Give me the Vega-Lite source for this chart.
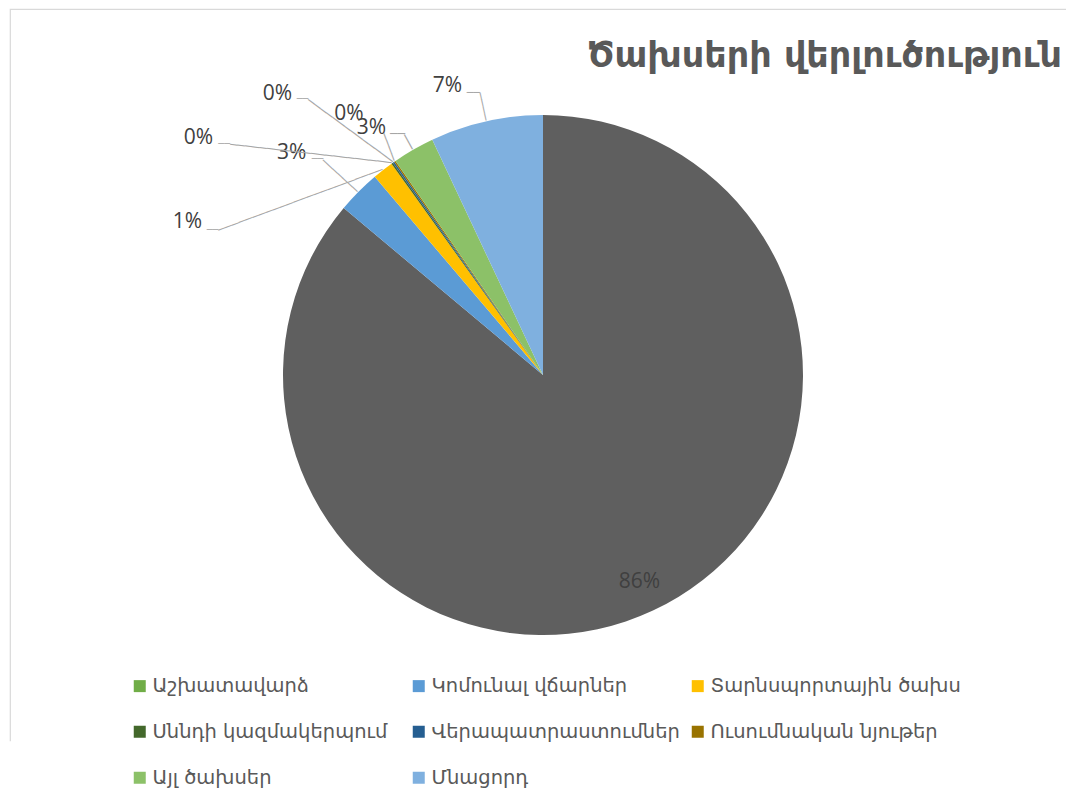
{
  "$schema": "https://vega.github.io/schema/vega-lite/v6.json",
  "width": 1066,
  "height": 732,
  "autosize": {"type": "none"},
  "padding": {"left": 10, "top": 9, "right": -10, "bottom": 62},
  "background": "#ffffff",
  "view": {"stroke": "#d9d9d9", "strokeWidth": 1.2, "strokeDash": [1066, 1798, 732]},
  "title": {
    "text": "Ծախսերի վերլուծություն",
    "anchor": "end",
    "frame": "group",
    "orient": "top",
    "offset": 0,
    "baseline": "alphabetic",
    "dx": -14,
    "dy": 93,
    "font": "DejaVu Sans",
    "fontSize": 35,
    "fontWeight": "bold",
    "color": "#595959"
  },
  "data": {
    "values": [
      {"cat": "Աշխատավարձ", "value": 0.861, "order": 1},
      {"cat": "Կոմունալ վճարներ", "value": 0.027, "order": 2},
      {"cat": "Տարնսպորտային ծախս", "value": 0.013, "order": 3},
      {"cat": "Սննդի կազմակերպում", "value": 0.001, "order": 4},
      {"cat": "Վերապատրաստումներ", "value": 0.001, "order": 5},
      {"cat": "Ուսումնական նյութեր", "value": 0.001, "order": 6},
      {"cat": "Այլ ծախսեր", "value": 0.026, "order": 7},
      {"cat": "Մնացորդ", "value": 0.07, "order": 8}
    ]
  },
  "encoding": {
    "theta": {"field": "value", "type": "quantitative", "stack": true},
    "order": {"field": "order", "type": "quantitative"}
  },
  "layer": [
    {
      "mark": {"type": "arc", "outerRadius": 260},
      "encoding": {
        "fill": {
          "field": "cat",
          "type": "nominal",
          "condition": {"test": "datum.order === 1", "value": "#5f5f5f"},
          "scale": {
            "domain": ["Աշխատավարձ", "Կոմունալ վճարներ", "Տարնսպորտային ծախս", "Սննդի կազմակերպում", "Վերապատրաստումներ", "Ուսումնական նյութեր", "Այլ ծախսեր", "Մնացորդ"],
            "range": ["#70ad47", "#5b9bd5", "#ffc000", "#43682b", "#255e91", "#997300", "#8cc168", "#7fb0df"]
          },
          "legend": {
            "orient": "none",
            "legendX": 120,
            "legendY": 667,
            "columns": 3,
            "direction": "horizontal",
            "gridAlign": "all",
            "columnPadding": 6,
            "rowPadding": 25,
            "title": null,
            "padding": 0,
            "symbolType": "square",
            "symbolSize": 144,
            "symbolStrokeWidth": 0,
            "labelOffset": 3,
            "labelFont": "DejaVu Sans",
            "labelFontSize": 19.5,
            "labelColor": "#595959",
            "labelLimit": 400
          }
        }
      }
    },
    {"mark": {"type": "text", "radius": 228, "font": "Open Sans", "fontSize": 21, "fill": "#404040", "align": "center", "baseline": "middle"},
     "encoding": {"text": {"condition": {"test": "datum.order === 1", "field": "value", "type": "quantitative", "format": ".0%"}, "value": ""}}},
    {"mark": {"type": "text", "radius": 261, "dx": -66.3, "dy": -38.5, "font": "Open Sans", "fontSize": 21, "fill": "#404040", "align": "center", "baseline": "middle"},
     "encoding": {"text": {"condition": {"test": "datum.order === 2", "field": "value", "type": "quantitative", "format": ".0%"}, "value": ""}}},
    {"mark": {"type": "text", "radius": 261, "dx": -194.9, "dy": 53.2, "font": "Open Sans", "fontSize": 21, "fill": "#404040", "align": "center", "baseline": "middle"},
     "encoding": {"text": {"condition": {"test": "datum.order === 3", "field": "value", "type": "quantitative", "format": ".0%"}, "value": ""}}},
    {"mark": {"type": "text", "radius": 261, "dx": -193.1, "dy": -24.9, "font": "Open Sans", "fontSize": 21, "fill": "#404040", "align": "center", "baseline": "middle"},
     "encoding": {"text": {"condition": {"test": "datum.order === 4", "field": "value", "type": "quantitative", "format": ".0%"}, "value": ""}}},
    {"mark": {"type": "text", "radius": 261, "dx": -115.4, "dy": -67.0, "font": "Open Sans", "fontSize": 21, "fill": "#404040", "align": "center", "baseline": "middle"},
     "encoding": {"text": {"condition": {"test": "datum.order === 5", "field": "value", "type": "quantitative", "format": ".0%"}, "value": ""}}},
    {"mark": {"type": "text", "radius": 261, "dx": -45.3, "dy": -47.0, "font": "Open Sans", "fontSize": 21, "fill": "#404040", "align": "center", "baseline": "middle"},
     "encoding": {"text": {"condition": {"test": "datum.order === 6", "field": "value", "type": "quantitative", "format": ".0%"}, "value": ""}}},
    {"mark": {"type": "text", "radius": 261, "dx": -41.5, "dy": -20.7, "font": "Open Sans", "fontSize": 21, "fill": "#404040", "align": "center", "baseline": "middle"},
     "encoding": {"text": {"condition": {"test": "datum.order === 7", "field": "value", "type": "quantitative", "format": ".0%"}, "value": ""}}},
    {"mark": {"type": "text", "radius": 261, "dx": -38.6, "dy": -34.3, "font": "Open Sans", "fontSize": 21, "fill": "#404040", "align": "center", "baseline": "middle"},
     "encoding": {"text": {"condition": {"test": "datum.order === 8", "field": "value", "type": "quantitative", "format": ".0%"}, "value": ""}}},

    {"mark": {"type": "text", "radius": 261, "angle": 222.6, "font": "DejaVu Sans", "fontSize": 11.1, "fill": "#a6a6a6", "align": "left", "baseline": "middle"},
     "encoding": {"text": {"condition": {"test": "datum.order === 2", "value": "───────"}, "value": ""}}},
    {"mark": {"type": "text", "radius": 261, "angle": 159.7, "font": "DejaVu Sans", "fontSize": 12.11, "fill": "#a6a6a6", "align": "left", "baseline": "middle"},
     "encoding": {"text": {"condition": {"test": "datum.order === 3", "value": "────────────────────────"}, "value": ""}}},
    {"mark": {"type": "text", "radius": 261, "angle": 186.5, "font": "DejaVu Sans", "fontSize": 12.28, "fill": "#a6a6a6", "align": "left", "baseline": "middle"},
     "encoding": {"text": {"condition": {"test": "datum.order === 4", "value": "──────────────────────"}, "value": ""}}},
    {"mark": {"type": "text", "radius": 261, "angle": 216.3, "font": "DejaVu Sans", "fontSize": 12.46, "fill": "#a6a6a6", "align": "left", "baseline": "middle"},
     "encoding": {"text": {"condition": {"test": "datum.order === 5", "value": "──────────────"}, "value": ""}}},
    {"mark": {"type": "text", "radius": 261, "angle": 249.5, "font": "DejaVu Sans", "fontSize": 12.2, "fill": "#a6a6a6", "align": "left", "baseline": "middle"},
     "encoding": {"text": {"condition": {"test": "datum.order === 6", "value": "────"}, "value": ""}}},
    {"mark": {"type": "text", "radius": 261, "angle": 240.9, "font": "DejaVu Sans", "fontSize": 13.7, "fill": "#a6a6a6", "align": "left", "baseline": "middle"},
     "encoding": {"text": {"condition": {"test": "datum.order === 7", "value": "──"}, "value": ""}}},
    {"mark": {"type": "text", "radius": 261, "angle": 257.5, "font": "DejaVu Sans", "fontSize": 11.75, "fill": "#a6a6a6", "align": "left", "baseline": "middle"},
     "encoding": {"text": {"condition": {"test": "datum.order === 8", "value": "────"}, "value": ""}}},

    {"mark": {"type": "text", "radius": 261, "dx": -34.5, "dy": -31.7, "font": "DejaVu Sans", "fontSize": 9.63, "fill": "#a6a6a6", "align": "right", "baseline": "middle"},
     "encoding": {"text": {"condition": {"test": "datum.order === 2", "value": "──"}, "value": ""}}},
    {"mark": {"type": "text", "radius": 261, "dx": -164.1, "dy": 60.7, "font": "DejaVu Sans", "fontSize": 9.63, "fill": "#a6a6a6", "align": "right", "baseline": "middle"},
     "encoding": {"text": {"condition": {"test": "datum.order === 3", "value": "──"}, "value": ""}}},
    {"mark": {"type": "text", "radius": 261, "dx": -161.6, "dy": -18.4, "font": "DejaVu Sans", "fontSize": 9.7, "fill": "#a6a6a6", "align": "right", "baseline": "middle"},
     "encoding": {"text": {"condition": {"test": "datum.order === 4", "value": "──"}, "value": ""}}},
    {"mark": {"type": "text", "radius": 261, "dx": -84.6, "dy": -62.2, "font": "DejaVu Sans", "fontSize": 9.63, "fill": "#a6a6a6", "align": "right", "baseline": "middle"},
     "encoding": {"text": {"condition": {"test": "datum.order === 5", "value": "──"}, "value": ""}}},
    {"mark": {"type": "text", "radius": 261, "dx": -8, "dy": -14.4, "font": "DejaVu Sans", "fontSize": 12.46, "fill": "#a6a6a6", "align": "right", "baseline": "middle"},
     "encoding": {"text": {"condition": {"test": "datum.order === 7", "value": "──"}, "value": ""}}},
    {"mark": {"type": "text", "radius": 261, "dx": -6.1, "dy": -27.6, "font": "DejaVu Sans", "fontSize": 11.05, "fill": "#a6a6a6", "align": "right", "baseline": "middle"},
     "encoding": {"text": {"condition": {"test": "datum.order === 8", "value": "──"}, "value": ""}}}
  ]
}
